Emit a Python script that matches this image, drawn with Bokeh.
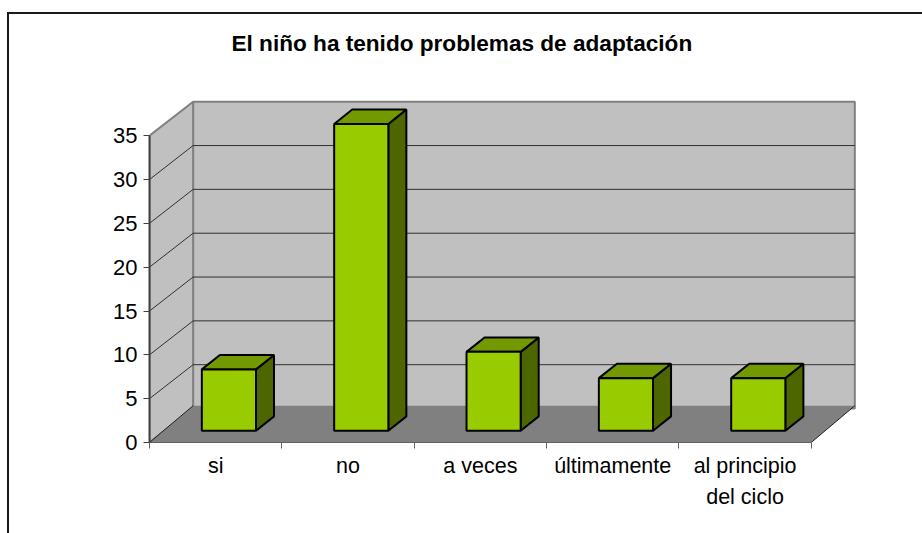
from bokeh.plotting import figure
from bokeh.models import FixedTicker, Range1d, Title
from bokeh.embed import file_html
from bokeh.resources import INLINE

title_text = "El niño ha tenido problemas de adaptación"
categories = ["si", "no", "a veces", "últimamente", "al principio\ndel ciclo"]
values = [7, 35, 9, 6, 6]
y_ticks = [0, 5, 10, 15, 20, 25, 30, 35]

FONT = "Liberation Sans"
PX_X = 132.0    # pixels per category
PX_Y = 8.72     # pixels per value unit
DEPTH_X = 43.5 / PX_X
DEPTH_Y = 33.8 / PX_Y
FLOOR_Y = 36.6 / PX_Y
BAR_L = 52.2 / PX_X
BAR_W = 54.0 / PX_X
BAR_B = 11.7 / PX_Y
BAR_DX = 18.0 / PX_X
BAR_DY = 14.3 / PX_Y
N = len(categories)
TOP = max(y_ticks)

p = figure(width=913, height=519, output_backend="svg", toolbar_location=None,
           x_range=Range1d(0, 773 / PX_X), y_range=Range1d(0, 380 / PX_Y),
           min_border_left=140, min_border_right=0, min_border_bottom=93, min_border_top=46)
p.margin = (12, 0, 0, 7)
p.styles = {"border-top": "2px solid #1a1a1a", "border-left": "2px solid #1a1a1a", "box-sizing": "content-box"}
p.outline_line_color = None
p.grid.visible = False
p.background_fill_color = "white"

p.title = Title(text=title_text, align="left", offset=82, text_font=FONT,
                text_font_size="22.6px", text_font_style="bold", text_color="black")

# walls
p.patch([DEPTH_X, N + DEPTH_X, N + DEPTH_X, DEPTH_X],
        [DEPTH_Y, DEPTH_Y, TOP + DEPTH_Y, TOP + DEPTH_Y],
        fill_color="#C0C0C0", line_color="#808080", line_width=2)
p.patch([0, DEPTH_X, DEPTH_X, 0], [0, DEPTH_Y, TOP + DEPTH_Y, TOP],
        fill_color="#C0C0C0", line_color="#808080", line_width=2)
# grid lines on the walls
for t in y_ticks[1:-1]:
    p.line([0, DEPTH_X, N + DEPTH_X], [t, t + DEPTH_Y, t + DEPTH_Y], line_color="#303030", line_width=1)
# floor
p.patch([0, N, N + DEPTH_X, DEPTH_X], [0, 0, FLOOR_Y, FLOOR_Y],
        fill_color="#808080", line_color=None)
p.line([N, N + DEPTH_X], [0, FLOOR_Y], line_color="#202020", line_width=1)
p.line([0, DEPTH_X], [0, FLOOR_Y], line_color="#202020", line_width=1)

# y axis
p.yaxis.ticker = FixedTicker(ticks=y_ticks)
p.yaxis.bounds = (0, TOP)
p.yaxis.axis_line_color = "#404040"
p.yaxis.axis_line_width = 2
p.yaxis.major_tick_in = 0
p.yaxis.major_tick_out = 6
p.yaxis.major_tick_line_color = "#404040"
p.yaxis.minor_tick_line_color = None
p.yaxis.major_label_text_font = FONT
p.yaxis.major_label_text_font_size = "22px"
p.yaxis.major_label_text_color = "black"
p.yaxis.major_label_standoff = 6

# x axis: labels at category centres, ticks at category edges
centres = [i + 0.5 for i in range(N)]
p.xaxis.ticker = FixedTicker(ticks=centres, minor_ticks=list(range(N + 1)))
p.xaxis.major_label_overrides = {c: t for c, t in zip(centres, categories)}
p.xaxis.axis_line_color = "#606060"
p.xaxis.axis_line_width = 1
p.xaxis.bounds = (0, N)
p.xaxis.major_tick_in = 0
p.xaxis.major_tick_out = 0
p.xaxis.minor_tick_in = 0
p.xaxis.minor_tick_out = 6
p.xaxis.minor_tick_line_color = "#606060"
p.xaxis.major_label_text_font = FONT
p.xaxis.major_label_text_font_size = "21.5px"
p.xaxis.major_label_text_color = "black"
p.xaxis.major_label_text_line_height = 1.3
p.xaxis.major_label_standoff = 5

# bars
fx, fy, tx, ty, sx, sy = [], [], [], [], [], []
for i, v in enumerate(values):
    l, r = i + BAR_L, i + BAR_L + BAR_W
    b, t = BAR_B, BAR_B + v
    fx.append([l, r, r, l]); fy.append([b, b, t, t])
    tx.append([l, r, r + BAR_DX, l + BAR_DX]); ty.append([t, t, t + BAR_DY, t + BAR_DY])
    sx.append([r, r + BAR_DX, r + BAR_DX, r]); sy.append([b, b + BAR_DY, t + BAR_DY, t])
p.patches(sx, sy, fill_color="#4D6600", line_color="black", line_width=2)
p.patches(tx, ty, fill_color="#739900", line_color="black", line_width=2)
p.patches(fx, fy, fill_color="#99CC00", line_color="black", line_width=2)

open("out.html", "w").write(file_html(p, INLINE))
